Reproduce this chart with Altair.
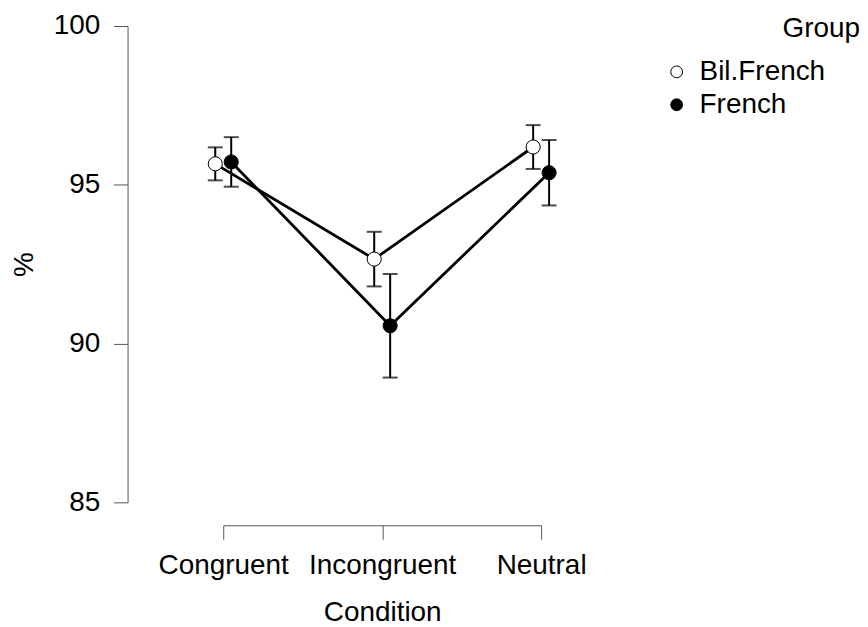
import altair as alt
import pandas as pd

conditions = ["Congruent", "Incongruent", "Neutral"]
groups = ["Bil.French", "French"]
bil_mean = [95.66, 92.66, 96.19]
bil_err = [0.52, 0.86, 0.69]
fr_mean = [95.72, 90.56, 95.38]
fr_err = [0.78, 1.63, 1.03]

rows = []
for g, means, errs in [(groups[0], bil_mean, bil_err), (groups[1], fr_mean, fr_err)]:
    for c, m, e in zip(conditions, means, errs):
        rows.append({"Condition": c, "Group": g, "mean": m, "lo": m - e, "hi": m + e})
df = pd.DataFrame(rows)

FONT = "Liberation Sans"
AX = "#555555"
FS = 28

x = alt.X(
    "Condition:N", sort=conditions,
    scale=alt.Scale(type="point", range=[96, 415], padding=0),
    axis=alt.Axis(title="Condition", offset=23, labelAngle=0, tickSize=14, labelPadding=12,
                  titlePadding=20, domainColor=AX, tickColor=AX, labelFontSize=FS,
                  titleFontSize=FS, titleFontWeight="normal", labelColor="black",
                  titleColor="black", grid=False, labelFont=FONT, titleFont=FONT),
)
xoff = alt.XOffset("Group:N", sort=groups,
                   scale=alt.Scale(type="point", range=[-8, 8], padding=0))
yscale = alt.Scale(domain=[85, 100], zero=False, nice=False)
yaxis = alt.Axis(title="%", values=[85, 90, 95, 100], tickSize=14, labelPadding=14,
                 titlePadding=15, domainColor=AX, tickColor=AX, labelFontSize=FS,
                 titleFontSize=FS, titleFontWeight="normal", labelColor="black",
                 titleColor="black", grid=False, labelFont=FONT, titleFont=FONT)
y = alt.Y("mean:Q", scale=yscale, axis=yaxis)

base = alt.Chart(df)

lines = base.mark_line(color="black", strokeWidth=2.8).encode(
    x=x, xOffset=xoff, y=y, detail="Group:N")

err = base.mark_rule(color="black", strokeWidth=2).encode(
    x=x, xOffset=xoff, y=alt.Y("lo:Q", scale=yscale, axis=yaxis), y2="hi:Q")

cap_lo = base.mark_tick(color="black", thickness=2, size=15, orient="horizontal").encode(
    x=x, xOffset=xoff, y=alt.Y("lo:Q", scale=yscale, axis=yaxis))
cap_hi = base.mark_tick(color="black", thickness=2, size=15, orient="horizontal").encode(
    x=x, xOffset=xoff, y=alt.Y("hi:Q", scale=yscale, axis=yaxis))

pts = base.mark_circle(size=200, stroke="black", strokeWidth=1, opacity=1).encode(
    x=x, xOffset=xoff, y=y,
    fill=alt.Fill("Group:N", sort=groups,
                  scale=alt.Scale(domain=groups, range=["white", "black"]),
                  legend=alt.Legend(title=None, orient="none", legendX=537, legendY=32,
                                    labelFont=FONT, labelColor="black",
                                    labelFontSize=FS, symbolSize=140, symbolType="circle",
                                    symbolStrokeColor="black", symbolStrokeWidth=1,
                                    rowPadding=5, labelOffset=9, padding=0)),
)

chart = alt.layer(lines, err, cap_lo, cap_hi, pts).properties(
    width=735, height=478,
    padding={"left": 120, "top": 17, "right": 0, "bottom": 124},
    autosize="none",
    background="white",
    title=alt.TitleParams("Group", anchor="end", orient="top", frame="group",
                          offset=-31, dx=0, fontSize=FS, fontWeight="normal", font=FONT,
                          color="black"),
).configure_view(stroke=None).configure_axis(grid=False)

chart.save("out.html", embed_options={"renderer": "svg", "actions": False})
